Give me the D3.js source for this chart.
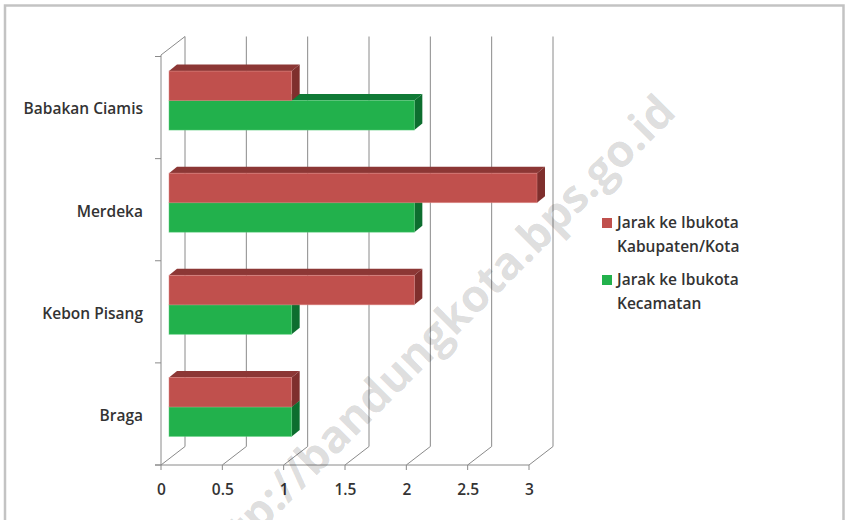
<!DOCTYPE html>
<html><head><meta charset="utf-8">
<script src="https://cdn.jsdelivr.net/npm/d3@7"></script>
<style>body{margin:0;background:#fff} svg{display:block}</style>
</head><body>
<script>
const categories = ["Babakan Ciamis","Merdeka","Kebon Pisang","Braga"];
const kabupatenKota = [1,3,2,1];
const kecamatan = [2,2,1,1];
const seriesLabels = [["Jarak ke Ibukota","Kabupaten/Kota"],["Jarak ke Ibukota","Kecamatan"]];
const xTicks = [0,0.5,1,1.5,2,2.5,3];
const tickLabels = ["0","0.5","1","1.5","2","2.5","3"];
const watermark = "http://bandungkota.bps.go.id";

const W=846,H=520;
const FONT = "'Open Sans', 'Noto Sans', sans-serif";
const svg = d3.select("body").append("svg").attr("width",W).attr("height",H);
svg.append("rect").attr("x",5).attr("y",5.5).attr("width",838.5).attr("height",H)
  .attr("fill","#fff").attr("stroke","#c3c3c3").attr("stroke-width",2.5);

const x = d3.scaleLinear().domain([0,3]).range([161,529]);
const y = d3.scaleBand().domain(categories).range([56.5,465]);
const DX = 24, DY = -18.5;       // full depth of the 3D box
const BX = 8, BY = -7;           // bar front plane offset
const TX = 8, TY = -6.5;         // bar depth
const wallTop = 55, floorY = 465;
const gridColor = "#8a8a8a";

const g = svg.append("g");
g.selectAll("path.grid").data(xTicks).join("path").attr("class","grid")
  .attr("d", t => `M${x(t)+DX},${wallTop+DY} V${floorY+DY} L${x(t)},${floorY}`)
  .attr("fill","none").attr("stroke",gridColor).attr("stroke-width",1);
g.append("path").attr("d",`M${x(0)},${floorY} V${wallTop} L${x(0)+DX},${wallTop+DY}`)
  .attr("fill","none").attr("stroke",gridColor).attr("stroke-width",1);
const bounds = categories.map(c=>y(c)).concat([y.range()[1]]);
g.selectAll("line.ytick").data(bounds).join("line").attr("class","ytick")
  .attr("x1",x(0)-6).attr("x2",x(0)).attr("y1",d=>d).attr("y2",d=>d)
  .attr("stroke",gridColor);
g.append("line").attr("x1",x(0)-6).attr("x2",x(3)).attr("y1",floorY).attr("y2",floorY).attr("stroke",gridColor);
g.selectAll("line.xtick").data(xTicks).join("line").attr("class","xtick")
  .attr("x1",d=>x(d)).attr("x2",d=>x(d)).attr("y1",floorY).attr("y2",floorY+5).attr("stroke",gridColor);

const barH = 29.5;
const series = [
  {vals: kecamatan, idx:1, front:"#22b14c", top:"#107a36", side:"#0d6e2f", edge:"#5fd080"},
  {vals: kabupatenKota, idx:0, front:"#c0504d", top:"#8c3735", side:"#7f2f2d", edge:"#e08a87"}
];
const bars = svg.append("g");
series.forEach(s=>{
  categories.forEach((c,i)=>{
    const v = s.vals[i];
    const x0 = x(0)+BX, x1 = x(v)+BX;
    const yT = y(c)+y.bandwidth()/2 + BY - barH + s.idx*barH;
    const gg = bars.append("g");
    gg.append("polygon").attr("points",[[x0,yT],[x1,yT],[x1+TX,yT+TY],[x0+TX,yT+TY]].join(" ")).attr("fill",s.top);
    gg.append("polygon").attr("points",[[x1,yT],[x1+TX,yT+TY],[x1+TX,yT+barH+TY],[x1,yT+barH]].join(" ")).attr("fill",s.side);
    gg.append("rect").attr("x",x0).attr("y",yT).attr("width",x1-x0).attr("height",barH)
      .attr("fill",s.front).attr("stroke",s.edge).attr("stroke-width",0.8).attr("stroke-opacity",0.6);
  });
});

svg.selectAll("text.cat").data(categories).join("text").attr("class","cat")
  .attr("x",143).attr("y",c=>y(c)+y.bandwidth()/2+1.5).attr("dy","0.35em")
  .attr("text-anchor","end").attr("font-family",FONT).attr("font-size",15.5).attr("font-weight",600)
  .attr("fill","#333").text(c=>c);
svg.selectAll("text.xl").data(xTicks).join("text").attr("class","xl")
  .attr("x",d=>x(d)+0.5).attr("y",490).attr("dy","0.35em")
  .attr("text-anchor","middle").attr("font-family",FONT).attr("font-size",15.5).attr("font-weight",600)
  .attr("fill","#333").text((d,i)=>tickLabels[i]);

const legY = [223, 280];
const legColors = ["#c0504d","#22b14c"];
seriesLabels.forEach((lines,i)=>{
  svg.append("rect").attr("x",602).attr("y",legY[i]-5).attr("width",10).attr("height",10).attr("fill",legColors[i]);
  lines.forEach((t,j)=>{
    svg.append("text").attr("x",617).attr("y",legY[i]+j*23.5).attr("dy","0.35em")
      .attr("font-family",FONT).attr("font-size",15.5).attr("font-weight",600)
      .attr("fill","#333").text(t);
  });
});

svg.append("text").attr("transform","translate(444,348) rotate(-45)")
  .attr("text-anchor","middle").attr("font-family",FONT).attr("font-size",45).attr("font-weight",700)
  .attr("fill","#000").attr("fill-opacity",0.15).text(watermark);
</script>
</body></html>
